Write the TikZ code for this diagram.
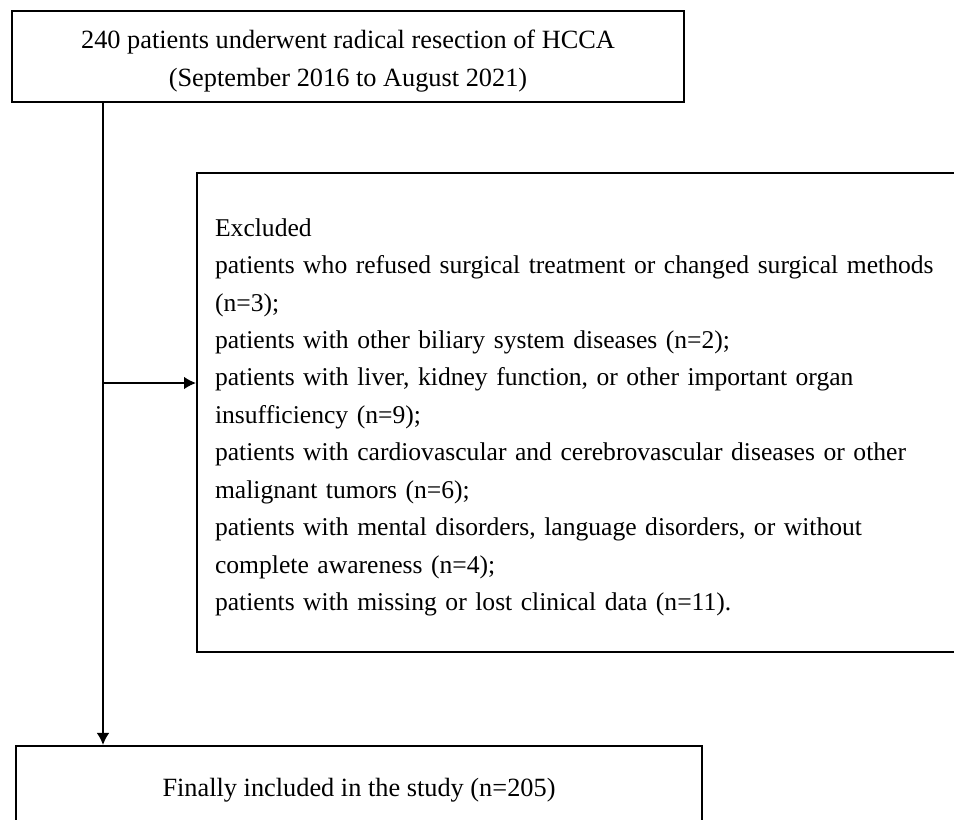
\documentclass[tikz,border=0pt]{standalone}
\usepackage{fontspec}
\setmainfont{Liberation Serif}
\usepackage {tikz}
\usetikzlibrary {positioning}
\usetikzlibrary{arrows.meta}
\tikzset{edge/.style = {->,> = {Latex[length=9pt,width=9.5pt]}, line width=1.2pt}}

\begin{document}
\begin{tikzpicture}[x=0.75pt,y=-0.75pt,
    box/.style={draw,line width=1.6pt,font=\fontsize{19.75pt}{28pt}\selectfont,inner sep=0pt}]
            \useasboundingbox (0,0) rectangle (954,819);
            \node[box,align=center,minimum width=504pt,minimum height=68.25pt,text height=48.75pt] (top) at (348,56.5)
                {240 patients underwent radical resection of HCCA\\(September 2016 to August 2021)};
            \node[box,align=left,text width=600pt,inner xsep=13.5pt,minimum width=571.5pt,minimum height=359.25pt,
                  text height=20.5pt,anchor=west,font=\fontsize{19.2pt}{28.1pt}\selectfont] (excl) at (196,412.5)
                {Excluded\\
                 patients who refused surgical treatment or changed surgical methods\\
                 (n=3);\\
                 patients with other biliary system diseases (n=2);\\
                 patients with liver, kidney function, or other important organ\\
                 insufficiency (n=9);\\
                 patients with cardiovascular and cerebrovascular diseases or other\\
                 malignant tumors (n=6);\\
                 patients with mental disorders, language disorders, or without\\
                 complete awareness (n=4);\\
                 patients with missing or lost clinical data (n=11).};
            \node[box,align=center,minimum width=514.5pt,minimum height=66pt] (final) at (359,790)
                {Finally included in the study (n=205)};
            \coordinate (split) at (103,383);
            \draw[edge] (top.south -| split) -- (final.north -| split);
            \draw[edge] (split) -- (excl.west |- split);
        \end{tikzpicture}
\end{document}
